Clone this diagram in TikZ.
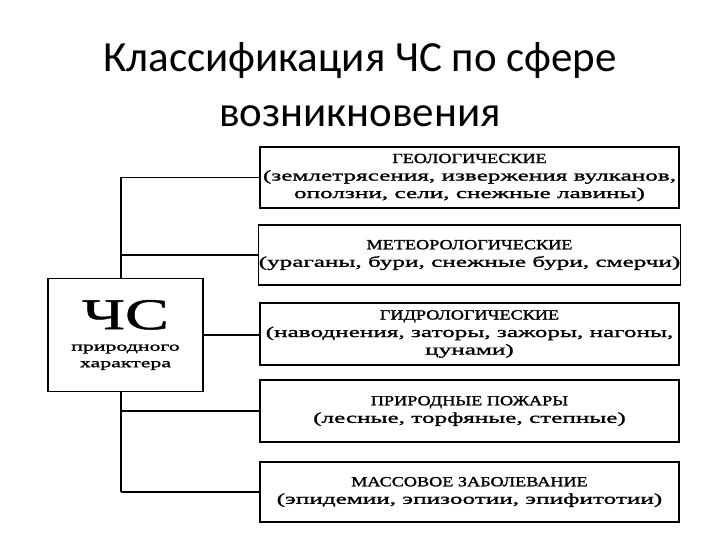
\documentclass[tikz,border=0pt]{standalone}
\usepackage{fontspec}
\setmainfont{Carlito}
\newfontfamily\boxfont[FakeStretch=1.68,FakeBold=1.5]{Liberation Serif}
\newfontfamily\headfont[FakeStretch=1.3,FakeBold=1.5]{Liberation Serif}
\newfontfamily\csfont[FakeStretch=1.5,FakeBold=1]{Liberation Serif}
\newcommand{\kindhead}[1]{{\headfont\fontsize{14}{17}\selectfont #1}}
\tikzset{
  kind/.style={draw,line width=1.6pt,fill=white,minimum width=419pt,
    align=center,font=\boxfont\fontsize{15}{17.5}\selectfont,inner sep=0pt},
  mainbox/.style={draw,line width=1.6pt,fill=white,minimum width=155pt,
    minimum height=113pt,align=center,inner sep=0pt,
    font=\boxfont\fontsize{13}{16.5}\selectfont},
  link/.style={line width=1.5pt}
}
\begin{document}
\begin{tikzpicture}[x=1pt,y=-1pt]
\useasboundingbox[fill=white] (0,0) rectangle (720,540);
% title
\node (title) at (360,127) [align=center,font=\fontsize{43}{55}\selectfont,anchor=base]
  {Классификация ЧС по сфере\\возникновения};
% main box
\node[mainbox] (cs) at (125.5,335) {{\csfont\fontsize{44}{40}\selectfont ЧС}\\[5pt]
  природного\\характера};
% kinds
\node[kind,minimum height=61pt] (geo) at (469.5,177.5)
  {\kindhead{ГЕОЛОГИЧЕСКИЕ}\\(землетрясения, извержения вулканов,\\оползни, сели, снежные лавины)};
\node[kind,minimum height=60pt] (met) at (469.5,255)
  {\kindhead{МЕТЕОРОЛОГИЧЕСКИЕ}\\(ураганы, бури, снежные бури, смерчи)};
\node[kind,minimum height=62pt] (hyd) at (469.5,334)
  {\kindhead{ГИДРОЛОГИЧЕСКИЕ}\\(наводнения, заторы, зажоры, нагоны,\\цунами)};
\node[kind,minimum height=62pt] (fire) at (469.5,411)
  {\kindhead{ПРИРОДНЫЕ ПОЖАРЫ}\\(лесные, торфяные, степные)};
\node[kind,minimum height=60pt] (epi) at (469.5,492)
  {\kindhead{МАССОВОЕ ЗАБОЛЕВАНИЕ}\\(эпидемии, эпизоотии, эпифитотии)};
% links
\coordinate (top) at (121,177.5);
\coordinate (bot) at (121,492);
\draw[link] (top) -- (geo.west);
\draw[link] (met.west) -| (top);
\draw[link] (top) -- (cs.north -| top);
\draw[link] (cs.east) -- (cs.east -| hyd.west);
\draw[link] (cs.south -| bot) -- (bot);
\draw[link] (fire.west) -| (bot);
\draw[link] (bot) -- (epi.west);
\end{tikzpicture}
\end{document}
